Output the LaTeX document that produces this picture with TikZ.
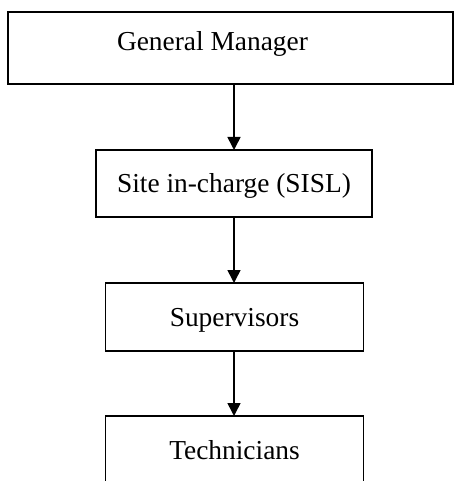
\documentclass[tikz,border=0pt]{standalone}
\usepackage{fontspec}
\setmainfont{Liberation Serif}
\usetikzlibrary{arrows.meta}
\begin{document}
\begin{tikzpicture}[x=1pt,y=-1pt,
  box/.style={draw=black, line width=1.6pt, rectangle, inner sep=0pt, outer sep=0pt,
    font=\fontsize{27.4}{30}\selectfont, text height=18.1pt, text depth=0pt},
  arr/.style={draw=black, line width=1.6pt, -{Triangle[width=13pt,length=13pt]}}]
\useasboundingbox (0,0) rectangle (456,481);
\clip (0,0) rectangle (456,481);
\node[box, minimum width=445pt, minimum height=72pt,
  label={[font=\fontsize{27.4}{30}\selectfont, text height=18.1pt, text depth=0pt, inner sep=0pt, xshift=-18pt, yshift=6.5pt]center:General Manager}] (gm) at (230.5,48) {};
\node[box, minimum width=276pt, minimum height=67pt] (site) at (234,183.5) {Site in-charge (SISL)};
\node[box, minimum width=258pt, minimum height=68pt] (sup) at (234.5,317) {Supervisors};
\node[box, minimum width=258pt, minimum height=68pt] (tech) at (234.5,450) {Technicians};
\draw[arr] (gm.south -| site.north) -- (site.north);
\draw[arr] (site.south) -- (site.south |- sup.north);
\draw[arr] (site.south |- sup.south) -- (site.south |- tech.north);
\end{tikzpicture}
\end{document}
